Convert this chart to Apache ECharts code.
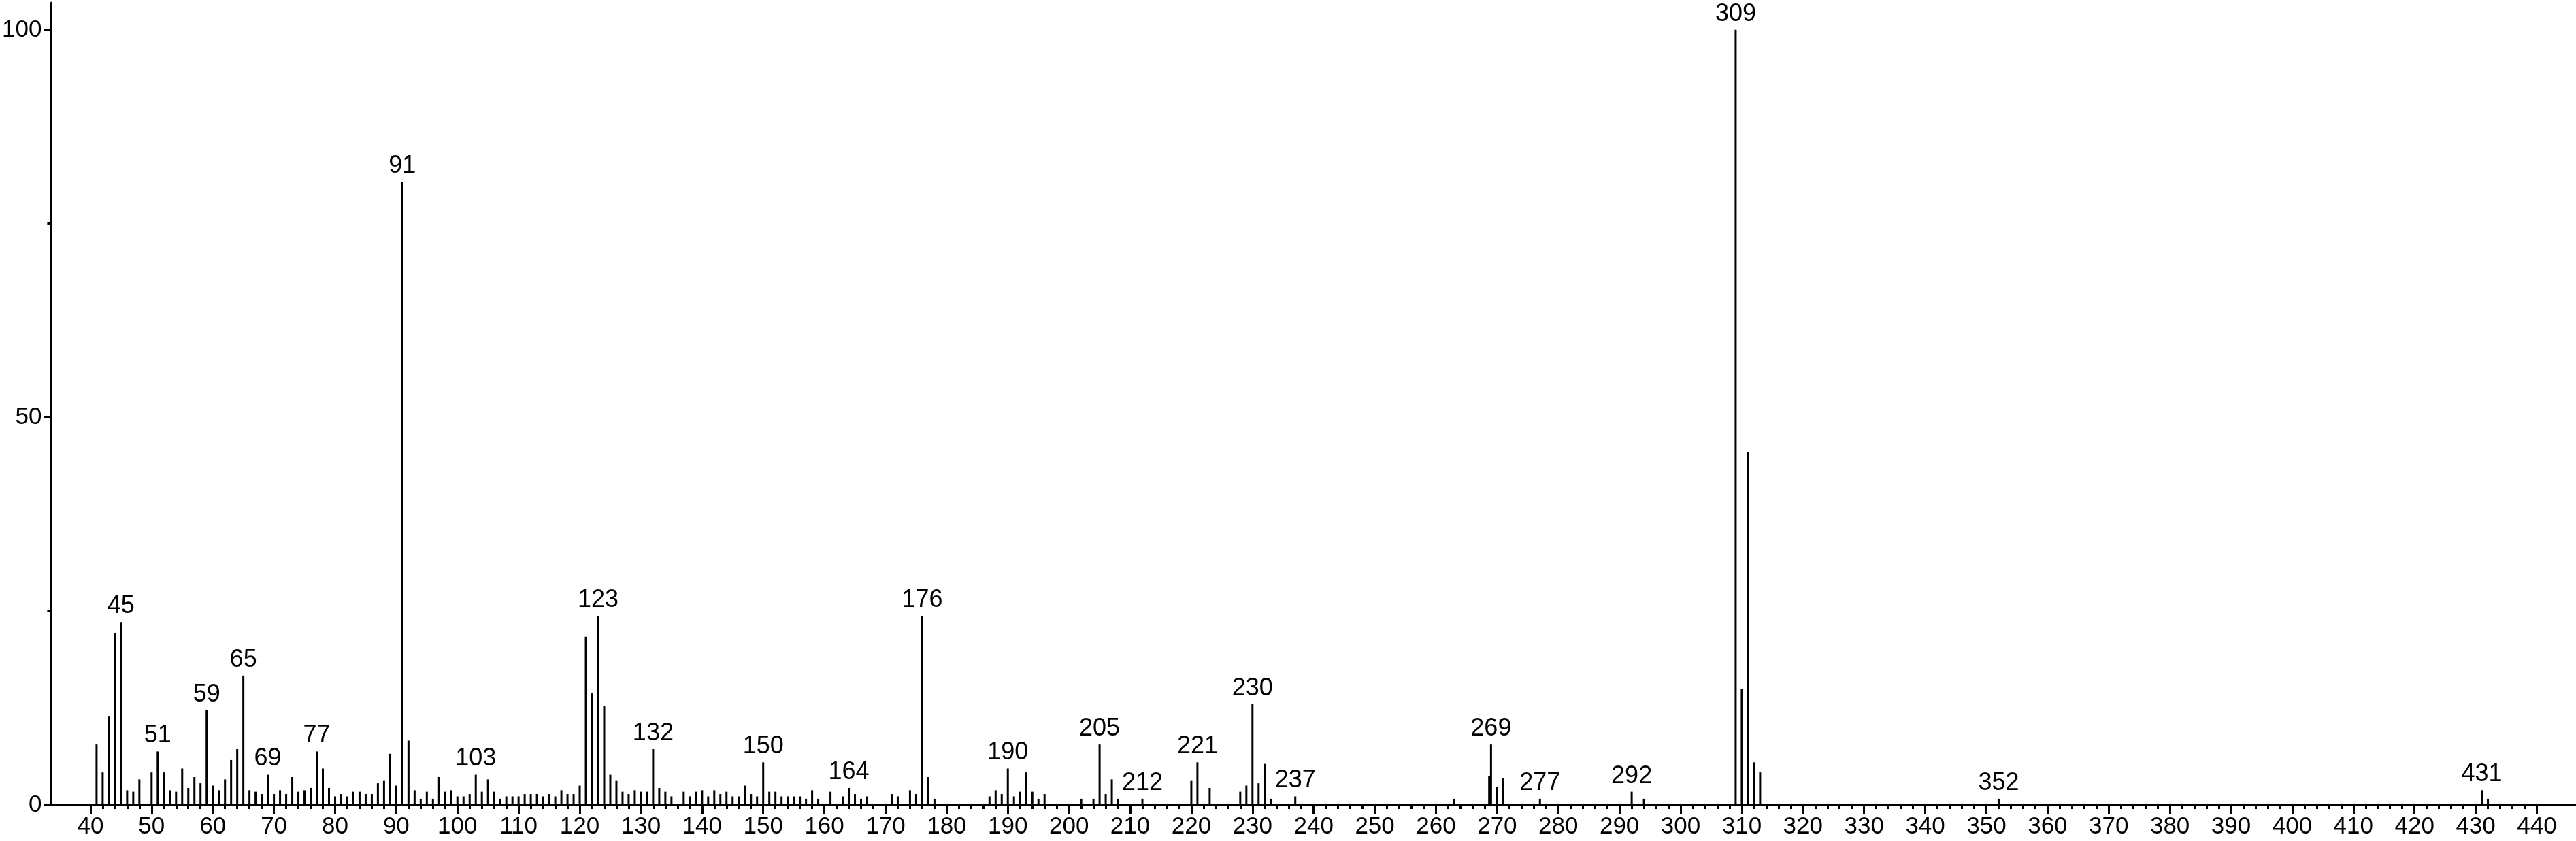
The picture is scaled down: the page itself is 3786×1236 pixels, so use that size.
<!DOCTYPE html>
<html>
<head>
<meta charset="utf-8">
<script src="https://cdn.jsdelivr.net/npm/echarts@6/dist/echarts.min.js"></script>
<style>
  html, body { margin: 0; padding: 0; background: #fff; }
  #spectrum { width: 3786px; height: 1236px; }
</style>
</head>
<body>
<div id="spectrum"></div>
<script>
// m/z values and relative intensities (%)
const mzValues = [
  41, 42, 43, 44, 45, 46, 47, 48, 50, 51, 52, 53, 54, 55, 56, 57, 58, 59, 60,
  61, 62, 63, 64, 65, 66, 67, 68, 69, 70, 71, 72, 73, 74, 75, 76, 77, 78, 79, 80,
  81, 82, 83, 84, 85, 86, 87, 88, 89, 90, 91, 92, 93, 94, 95, 96, 97, 98, 99, 100,
  101, 102, 103, 104, 105, 106, 107, 108, 109, 110, 111, 112, 113, 114, 115, 116, 117, 118, 119, 120,
  121, 122, 123, 124, 125, 126, 127, 128, 129, 130, 131, 132, 133, 134, 135, 137, 138, 139, 140,
  141, 142, 143, 144, 145, 146, 147, 148, 149, 150, 151, 152, 153, 154, 155, 156, 157, 158, 159,
  161, 163, 164, 165, 166, 167, 171, 172, 174, 175, 176, 177, 178,
  187, 188, 189, 190, 191, 192, 193, 194, 195, 196, 202, 204, 205, 206, 207, 208, 212,
  220, 221, 223, 228, 229, 230, 231, 232, 233, 237, 263, 268.7, 269, 270, 271, 277, 292, 294,
  309, 310, 311, 312, 313, 352, 431, 432
];
const intensities = [
  7.8, 4.2, 11.4, 22.2, 23.6, 1.9, 1.7, 3.3, 4.2, 6.9, 4.2, 1.9, 1.7, 4.7, 2.2, 3.6, 2.8, 12.2, 2.5,
  1.9, 3.3, 5.8, 7.2, 16.7, 1.9, 1.7, 1.4, 3.9, 1.4, 1.9, 1.4, 3.6, 1.7, 1.9, 2.2, 6.9, 4.7, 2.2, 1.1,
  1.4, 1.1, 1.7, 1.7, 1.4, 1.4, 2.8, 3.1, 6.6, 2.5, 80.4, 8.3, 1.9, 0.8, 1.7, 0.8, 3.6, 1.7, 1.9, 1.1,
  1.1, 1.4, 3.9, 1.7, 3.3, 1.7, 0.8, 1.1, 1.1, 1.1, 1.4, 1.4, 1.4, 1.1, 1.4, 1.1, 1.9, 1.4, 1.4, 2.5,
  21.7, 14.4, 24.4, 12.8, 3.9, 3.1, 1.7, 1.4, 1.9, 1.7, 1.7, 7.2, 2.2, 1.7, 1.1, 1.7, 1.1, 1.7, 1.9,
  1.1, 1.9, 1.4, 1.7, 1.1, 1.1, 2.5, 1.4, 1.1, 5.5, 1.7, 1.7, 1.1, 1.1, 1.1, 1.1, 0.8, 1.9, 0.8,
  1.7, 1.1, 2.2, 1.4, 0.8, 1.1, 1.4, 1.1, 1.9, 1.4, 24.4, 3.6, 0.8,
  1.1, 1.9, 1.4, 4.7, 1.1, 1.7, 4.2, 1.7, 0.8, 1.4, 0.8, 0.8, 7.8, 1.4, 3.3, 0.8, 0.8,
  3.1, 5.5, 2.2, 1.7, 2.5, 13.0, 2.8, 5.3, 0.8, 1.1, 0.8, 3.7, 7.8, 2.3, 3.5, 0.8, 1.7, 0.8,
  100, 15.0, 45.5, 5.5, 4.2, 0.8, 1.9, 0.8
];
// peaks that carry an m/z label
const labeledPeaks = [45, 51, 59, 65, 69, 77, 91, 103, 123, 132, 150, 164, 176, 190, 205, 212,
  221, 230, 237, 269, 277, 292, 309, 352, 431];

const xTickLabels = [40, 50, 60, 70, 80, 90, 100, 110, 120, 130, 140, 150, 160, 170, 180, 190, 200,
  210, 220, 230, 240, 250, 260, 270, 280, 290, 300, 310, 320, 330, 340, 350, 360, 370, 380, 390, 400,
  410, 420, 430, 440];
const yTickLabels = [0, 50, 100];
const yMinorTicks = [25, 75];

// minor x ticks every 2 units between the labelled ones
const xMinorTicks = [];
for (let v = xTickLabels[0]; v <= xTickLabels[xTickLabels.length - 1]; v += 2) {
  if (v % 10 !== 0) xMinorTicks.push(v);
}

const font = 'Liberation Sans, Arial, sans-serif';
const axisColor = '#000';

const peakData = mzValues.map((mz, i) => ({
  value: [mz, intensities[i]],
  label: { show: labeledPeaks.indexOf(mz) !== -1 }
}));

const myChart = echarts.init(document.getElementById('spectrum'), null, { renderer: 'canvas' });
myChart.setOption({
  animation: false,
  backgroundColor: '#fff',
  grid: { left: 70, right: 0, top: 4, bottom: 53 },
  xAxis: [
    {
      type: 'value',
      min: 33.6,
      max: 446.4,
      position: 'bottom',
      axisLine: { show: true, lineStyle: { color: axisColor, width: 3 } },
      axisTick: { show: true, customValues: xTickLabels, length: 13, lineStyle: { color: axisColor, width: 3 } },
      axisLabel: { customValues: xTickLabels, margin: 15, color: '#000', fontSize: 35, fontFamily: font },
      splitLine: { show: false }
    },
    {
      type: 'value',
      min: 33.6,
      max: 446.4,
      position: 'bottom',
      axisLine: { show: false },
      axisTick: { show: true, customValues: xMinorTicks, length: 6, lineStyle: { color: axisColor, width: 3 } },
      axisLabel: { show: false },
      splitLine: { show: false }
    }
  ],
  yAxis: [
    {
      type: 'value',
      min: 0,
      max: 103.5,
      position: 'left',
      axisLine: { show: true, lineStyle: { color: axisColor, width: 3 } },
      axisTick: { show: true, customValues: yTickLabels, length: 11, lineStyle: { color: axisColor, width: 3 } },
      axisLabel: { customValues: yTickLabels, margin: 14, color: '#000', fontSize: 35, fontFamily: font },
      splitLine: { show: false }
    },
    {
      type: 'value',
      min: 0,
      max: 103.5,
      position: 'left',
      axisLine: { show: false },
      axisTick: { show: true, customValues: yMinorTicks, length: 6, lineStyle: { color: axisColor, width: 3 } },
      axisLabel: { show: false },
      splitLine: { show: false }
    }
  ],
  series: [
    {
      name: 'spectrum',
      type: 'bar',
      xAxisIndex: 0,
      yAxisIndex: 0,
      barWidth: 3,
      itemStyle: { color: '#000' },
      label: {
        position: 'top',
        distance: 5,
        color: '#000',
        fontSize: 36,
        fontFamily: font,
        formatter: (p) => p.value[0]
      },
      data: peakData
    }
  ]
});
</script>
</body>
</html>
